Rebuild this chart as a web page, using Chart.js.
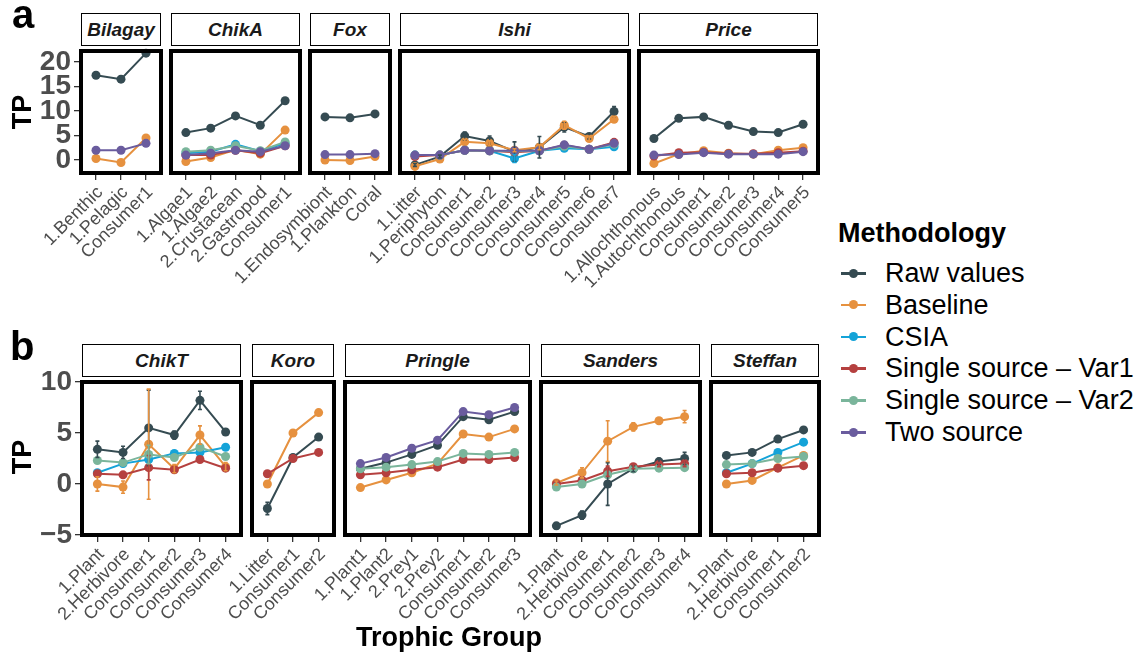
<!DOCTYPE html>
<html>
<head>
<meta charset="utf-8">
<title>TP by trophic group and methodology</title>
<script src="https://cdn.jsdelivr.net/npm/chart.js@4.4.1/dist/chart.umd.min.js"></script>
<style>
  html,body{margin:0;padding:0;background:#fff;}
  body{width:1147px;height:656px;position:relative;overflow:hidden;font-family:"Liberation Sans",Arial,Helvetica,sans-serif;}
  canvas{position:absolute;}
  .strip{position:absolute;box-sizing:border-box;border:1.4px solid #000;background:#fff;color:#1a1a1a;font-weight:bold;font-style:italic;font-size:19px;display:flex;align-items:center;justify-content:center;white-space:nowrap;}
  .txt{position:absolute;white-space:nowrap;color:#000;font-weight:bold;}
  .leg-item{position:absolute;height:32px;}
  .leg-line{position:absolute;left:1px;top:15px;width:25px;height:2.5px;}
  .leg-dot{position:absolute;left:9px;top:11.5px;width:9px;height:9px;border-radius:50%;}
  .leg-text{position:absolute;left:45px;top:0;line-height:32px;font-size:27px;color:#000;white-space:nowrap;}
</style>
</head>
<body>
<script>
// ---------- methodology (series) ----------
const methods = ['Raw values', 'Baseline', 'CSIA', 'Single source \u2013 Var1', 'Single source \u2013 Var2', 'Two source'];
const methodColors = ['#354b52', '#e6913f', '#14a3d8', '#b5403f', '#7ab59b', '#6a5c9e'];

// ---------- y tick labels ----------
const rowATicks = [0, 5, 10, 15, 20];
const rowBTicks = [-5, 0, 5, 10];

// ---------- panel a ----------
const bilagayGroups = ['1.Benthic', '1.Pelagic', 'Consumer1'];
const bilagayRaw = [17.3, 16.5, 21.8];
const bilagayBaseline = [0.3, -0.5, 4.5];
const bilagayTwo = [2.0, 2.0, 3.4];

const chikAGroups = ['1.Algae1', '1.Algae2', '2.Crustacean', '2.Gastropod', 'Consumer1'];
const chikARaw = [5.6, 6.5, 9.0, 7.1, 12.1];
const chikABaseline = [-0.3, 0.5, 2.1, 1.2, 6.1];
const chikACSIA = [1.4, 1.7, 3.2, 1.8, 3.4];
const chikAVar1 = [1.0, 1.0, 2.0, 1.4, 2.9];
const chikAVar2 = [1.7, 2.0, 2.9, 1.9, 3.7];
const chikATwo = [1.0, 1.4, 2.0, 1.7, 2.9];

const foxGroups = ['1.Endosymbiont', '1.Plankton', 'Coral'];
const foxRaw = [8.8, 8.6, 9.4];
const foxBaseline = [0.0, -0.1, 0.7];
const foxTwo = [1.1, 1.1, 1.3];

const ishiGroups = ['1.Litter', '1.Periphyton', 'Consumer1', 'Consumer2', 'Consumer3', 'Consumer4', 'Consumer5', 'Consumer6', 'Consumer7'];
const ishiRaw = [-1.0, 0.7, 4.9, 3.9, 1.7, 2.6, 6.7, 4.8, 9.9];
const ishiRawErr = [0.3, 0.3, 0.8, 1.0, 2.0, 2.2, 1.0, 0.5, 1.0];
const ishiBaseline = [-1.3, 0.2, 3.7, 3.4, 2.0, 2.6, 7.1, 4.4, 8.3];
const ishiBaselineErr = [0, 0, 0.5, 0.5, 0.3, 0.5, 0.8, 0.5, 0.6];
const ishiCSIA = [1.0, 1.0, 2.0, 1.9, 0.3, 1.9, 2.4, 2.2, 2.7];
const ishiCSIAErr = [0, 0, 0, 0, 0.8, 0, 0, 0, 0];
const ishiVar1 = [0.7, 1.0, 2.0, 1.9, 1.6, 1.9, 3.0, 2.2, 3.6];
const ishiVar2 = [1.0, 1.0, 2.0, 1.9, 1.8, 1.9, 2.8, 2.2, 3.2];
const ishiTwo = [1.0, 1.0, 2.0, 1.9, 1.9, 1.9, 3.1, 2.2, 3.4];

const priceGroups = ['1.Allochthonous', '1.Autochthonous', 'Consumer1', 'Consumer2', 'Consumer3', 'Consumer4', 'Consumer5'];
const priceRaw = [4.4, 8.5, 8.8, 7.1, 5.8, 5.6, 7.3];
const priceBaseline = [-0.7, 1.2, 1.9, 1.4, 1.2, 2.0, 2.5];
const priceVar1 = [0.8, 1.5, 1.6, 1.3, 1.3, 1.5, 1.8];
const priceTwo = [1.0, 1.1, 1.5, 1.2, 1.2, 1.2, 1.7];

// ---------- panel b ----------
const chikTGroups = ['1.Plant', '2.Herbivore', 'Consumer1', 'Consumer2', 'Consumer3', 'Consumer4'];
const chikTRaw = [3.4, 3.1, 5.5, 4.8, 8.2, 5.1];
const chikTRawErr = [0.8, 0.6, 3.7, 0.4, 0.9, 0.3];
const chikTBaseline = [0.0, -0.3, 3.9, 1.5, 4.8, 1.7];
const chikTBaselineErr = [0.7, 0.6, 5.4, 0.4, 0.9, 0.4];
const chikTCSIA = [1.1, 2.0, 2.4, 3.0, 3.1, 3.6];
const chikTVar1 = [1.0, 0.9, 1.6, 1.4, 2.4, 1.55];
const chikTVar1Err = [0, 0, 1.2, 0, 0, 0];
const chikTVar2 = [2.3, 2.1, 2.9, 2.6, 3.6, 2.7];
const chikTVar2Err = [0, 0, 0.9, 0, 0, 0];

const koroGroups = ['1.Litter', 'Consumer1', 'Consumer2'];
const koroRaw = [-2.4, 2.6, 4.6];
const koroRawErr = [0.6, 0, 0];
const koroBaseline = [0.0, 5.0, 7.0];
const koroVar1 = [1.0, 2.5, 3.1];

const pringleGroups = ['1.Plant1', '1.Plant2', '2.Prey1', '2.Prey2', 'Consumer1', 'Consumer2', 'Consumer3'];
const pringleRaw = [1.5, 2.1, 2.9, 3.8, 6.6, 6.3, 7.1];
const pringleBaseline = [-0.35, 0.4, 1.1, 2.0, 4.9, 4.6, 5.4];
const pringleVar1 = [0.9, 1.1, 1.4, 1.65, 2.4, 2.4, 2.6];
const pringleVar2 = [1.5, 1.65, 1.9, 2.2, 3.0, 2.9, 3.1];
const pringleTwo = [2.0, 2.6, 3.5, 4.3, 7.1, 6.8, 7.5];

const sandersGroups = ['1.Plant', '2.Herbivore', 'Consumer1', 'Consumer2', 'Consumer3', 'Consumer4'];
const sandersRaw = [-4.1, -3.05, 0.0, 1.5, 2.2, 2.5];
const sandersRawErr = [0.3, 0.4, 2.1, 0.3, 0.3, 0.6];
const sandersBaseline = [0.1, 1.1, 4.2, 5.6, 6.2, 6.6];
const sandersBaselineErr = [0.2, 0.5, 2.0, 0.4, 0.3, 0.6];
const sandersVar1 = [0.0, 0.35, 1.25, 1.7, 1.9, 2.0];
const sandersVar1Err = [0, 0, 0.5, 0.2, 0.2, 0.3];
const sandersVar2 = [-0.3, 0.0, 0.9, 1.5, 1.55, 1.6];

const steffanGroups = ['1.Plant', '2.Herbivore', 'Consumer1', 'Consumer2'];
const steffanRaw = [2.8, 3.1, 4.4, 5.3];
const steffanBaseline = [0.0, 0.35, 1.6, 2.8];
const steffanCSIA = [1.1, 2.0, 3.1, 4.1];
const steffanVar1 = [1.0, 1.1, 1.55, 1.8];
const steffanVar2 = [1.9, 2.0, 2.5, 2.7];

// ---------- facets (series in methods order; null = not present) ----------
const panelsA = [
  {name: 'Bilagay', groups: bilagayGroups, series: [bilagayRaw, bilagayBaseline, null, null, null, bilagayTwo]},
  {name: 'ChikA', groups: chikAGroups, series: [chikARaw, chikABaseline, chikACSIA, chikAVar1, chikAVar2, chikATwo]},
  {name: 'Fox', groups: foxGroups, series: [foxRaw, foxBaseline, null, null, null, foxTwo]},
  {name: 'Ishi', groups: ishiGroups, series: [ishiRaw, ishiBaseline, ishiCSIA, ishiVar1, ishiVar2, ishiTwo],
   errors: [ishiRawErr, ishiBaselineErr, ishiCSIAErr, null, null, null]},
  {name: 'Price', groups: priceGroups, series: [priceRaw, priceBaseline, null, priceVar1, null, priceTwo]}
];
const panelsB = [
  {name: 'ChikT', groups: chikTGroups, series: [chikTRaw, chikTBaseline, chikTCSIA, chikTVar1, chikTVar2, null],
   errors: [chikTRawErr, chikTBaselineErr, null, chikTVar1Err, chikTVar2Err, null]},
  {name: 'Koro', groups: koroGroups, series: [koroRaw, koroBaseline, null, koroVar1, null, null],
   errors: [koroRawErr, null, null, null, null, null]},
  {name: 'Pringle', groups: pringleGroups, series: [pringleRaw, pringleBaseline, null, pringleVar1, pringleVar2, pringleTwo]},
  {name: 'Sanders', groups: sandersGroups, series: [sandersRaw, sandersBaseline, null, sandersVar1, sandersVar2, null],
   errors: [sandersRawErr, sandersBaselineErr, null, sandersVar1Err, null, null]},
  {name: 'Steffan', groups: steffanGroups, series: [steffanRaw, steffanBaseline, steffanCSIA, steffanVar1, steffanVar2, null]}
];

// ---------- layout ----------
const FONT = '"Liberation Sans", Arial, Helvetica, sans-serif';
const PADL = 170, PADR = 14, PADT = 26, XAXIS_H = 150, YAXIS_W = 90;
const layoutA = {left: 81, top: 51, bottom: 173, unit: 24.89, gap: 10, yMin: -2.65, yMax: 22.24, ticks: rowATicks, stripTop: 13, stripBottom: 46};
const layoutB = {left: 82, top: 382, bottom: 535, unit: 25.7, gap: 10.7, yMin: -5, yMax: 10, ticks: rowBTicks, stripTop: 344, stripBottom: 377};

const panelPlugin = {
  id: 'panelDecor',
  afterDatasetsDraw(chart) {
    const ctx = chart.ctx, a = chart.chartArea, ys = chart.scales.y;
    ctx.save();
    chart.data.datasets.forEach((ds, di) => {
      if (!ds.errors) return;
      const meta = chart.getDatasetMeta(di);
      ctx.strokeStyle = ds.borderColor;
      ctx.lineWidth = 1.6;
      ds.errors.forEach((e, i) => {
        if (!e) return;
        const x = meta.data[i].x, v = ds.data[i].y;
        const y1 = ys.getPixelForValue(v - e), y2 = ys.getPixelForValue(v + e);
        ctx.beginPath();
        ctx.moveTo(x, y1); ctx.lineTo(x, y2);
        ctx.moveTo(x - 2, y1); ctx.lineTo(x + 2, y1);
        ctx.moveTo(x - 2, y2); ctx.lineTo(x + 2, y2);
        ctx.stroke();
      });
    });
    ctx.strokeStyle = '#000';
    ctx.lineWidth = 4;
    ctx.strokeRect(a.left, a.top, a.right - a.left, a.bottom - a.top);
    ctx.restore();
  }
};

function makePanel(p, left, w, L, showY) {
  const n = p.groups.length;
  const h = L.bottom - L.top;
  const c = document.createElement('canvas');
  const cw = PADL + w + PADR, ch = PADT + h + XAXIS_H;
  c.width = cw; c.height = ch;
  c.style.left = (left - PADL) + 'px';
  c.style.top = (L.top - PADT) + 'px';
  c.style.width = cw + 'px'; c.style.height = ch + 'px';
  document.body.appendChild(c);

  const datasets = [];
  p.series.forEach((vals, m) => {
    if (!vals) return;
    datasets.push({
      label: methods[m],
      data: vals.map((v, i) => ({x: i, y: v})),
      errors: p.errors ? p.errors[m] : null,
      borderColor: methodColors[m],
      backgroundColor: methodColors[m],
      pointBackgroundColor: methodColors[m],
      pointBorderColor: methodColors[m],
      borderWidth: 2,
      pointRadius: 4.5,
      pointBorderWidth: 0,
      pointHoverRadius: 4.5,
      tension: 0,
      clip: false,
      order: 10 - m
    });
  });

  new Chart(c, {
    type: 'line',
    data: {datasets},
    options: {
      responsive: false,
      animation: false,
      events: [],
      layout: {padding: {left: showY ? PADL - YAXIS_W : PADL, right: PADR, top: PADT, bottom: 0}},
      plugins: {legend: {display: false}, tooltip: {enabled: false}, title: {display: false}},
      scales: {
        x: {
          type: 'linear', position: 'bottom', min: -0.6, max: n - 0.4,
          afterBuildTicks: s => { s.ticks = p.groups.map((g, i) => ({value: i})); },
          afterFit: s => { s.height = XAXIS_H; },
          ticks: {autoSkip: false, minRotation: 45, maxRotation: 45, padding: 2, labelOffset: 4, color: '#4d4d4d',
                  font: {family: FONT, size: 18}, callback: v => p.groups[v]},
          grid: {display: true, drawOnChartArea: false, drawTicks: true, tickLength: 7, color: '#333', lineWidth: 1.3},
          border: {display: false}
        },
        y: {
          type: 'linear', display: showY, min: L.yMin, max: L.yMax,
          afterBuildTicks: s => { s.ticks = L.ticks.map(v => ({value: v})); },
          afterFit: s => { s.width = showY ? YAXIS_W : 0; },
          ticks: {autoSkip: false, color: '#4d4d4d', padding: 3, font: {family: FONT, size: 28, weight: 'bold', lineHeight: 1},
                  callback: v => (v < 0 ? '\u2212' + Math.abs(v) : String(v))},
          grid: {display: true, drawOnChartArea: false, drawTicks: true, tickLength: 7, color: '#333', lineWidth: 1.3},
          border: {display: false}
        }
      }
    },
    plugins: [panelPlugin]
  });

  const s = document.createElement('div');
  s.className = 'strip';
  s.textContent = p.name;
  s.style.left = left + 'px';
  s.style.width = w + 'px';
  s.style.top = L.stripTop + 'px';
  s.style.height = (L.stripBottom - L.stripTop) + 'px';
  document.body.appendChild(s);
}

function buildRow(panels, L) {
  let x = L.left;
  panels.forEach((p, idx) => {
    const n = p.groups.length;
    const wExact = (n + 0.2) * L.unit;
    const left = Math.round(x);
    const w = Math.round(x + wExact) - left;
    makePanel(p, left, w, L, idx === 0);
    x += wExact + L.gap;
  });
}

function addText(txt, css) {
  const d = document.createElement('div');
  d.className = 'txt';
  d.textContent = txt;
  Object.assign(d.style, css);
  document.body.appendChild(d);
  return d;
}

buildRow(panelsA, layoutA);
buildRow(panelsB, layoutB);

// panel tags and axis titles
addText('a', {left: '12px', top: '-6px', fontSize: '40px', lineHeight: '40px'});
addText('b', {left: '10px', top: '326px', fontSize: '40px', lineHeight: '40px'});
addText('TP', {left: '-8px', top: '97px', width: '60px', height: '30px', lineHeight: '30px', textAlign: 'center', fontSize: '27px', transform: 'rotate(-90deg)'});
addText('TP', {left: '-8px', top: '442px', width: '60px', height: '30px', lineHeight: '30px', textAlign: 'center', fontSize: '27px', transform: 'rotate(-90deg)'});
addText('Trophic Group', {left: '349px', top: '621px', width: '200px', textAlign: 'center', fontSize: '27px', lineHeight: '32px'});

// legend
addText('Methodology', {left: '838px', top: '217px', fontSize: '27px', lineHeight: '32px'});
methods.forEach((m, i) => {
  const item = document.createElement('div');
  item.className = 'leg-item';
  item.style.left = '840px';
  item.style.top = (257 + i * 31.8) + 'px';
  const ln = document.createElement('div'); ln.className = 'leg-line'; ln.style.background = methodColors[i];
  const dot = document.createElement('div'); dot.className = 'leg-dot'; dot.style.background = methodColors[i];
  const tx = document.createElement('div'); tx.className = 'leg-text'; tx.textContent = m;
  item.appendChild(ln); item.appendChild(dot); item.appendChild(tx);
  document.body.appendChild(item);
});
</script>
</body>
</html>
